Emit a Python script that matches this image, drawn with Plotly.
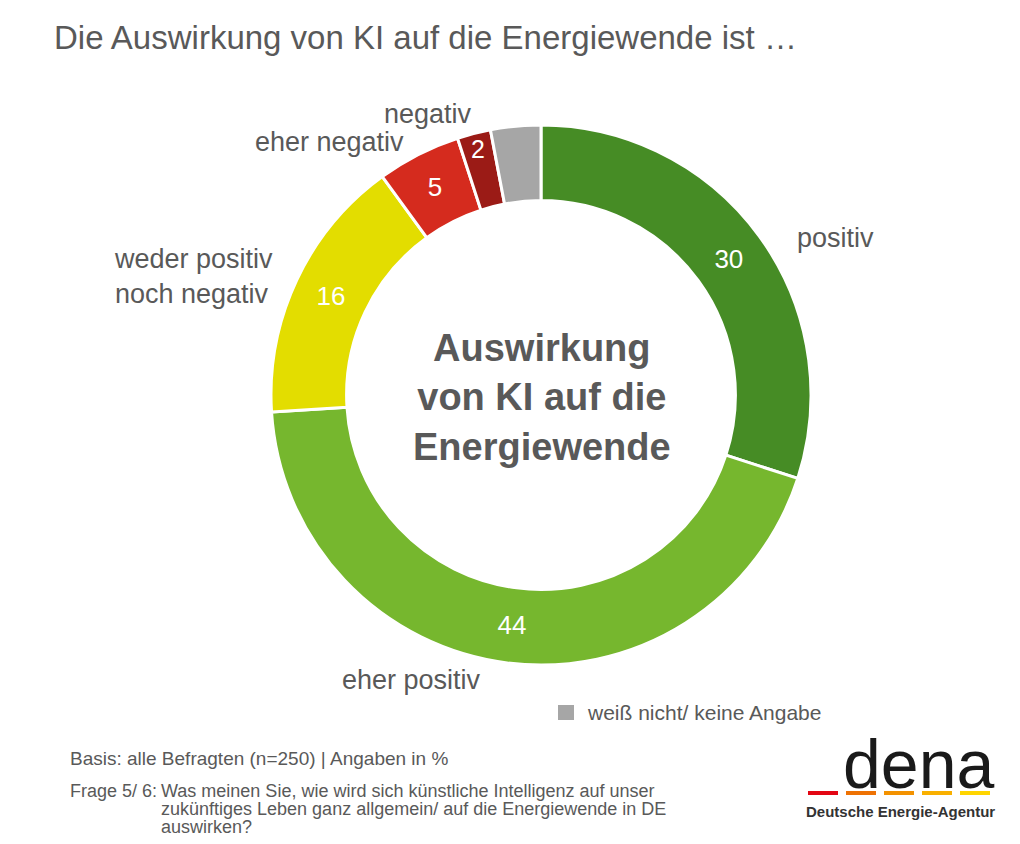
import plotly.graph_objects as go

labels = ["positiv", "eher positiv", "weder positiv noch negativ", "eher negativ", "negativ", "weiß nicht/ keine Angabe"]
values = [30, 44, 16, 5, 2, 3]
colors = ["#468c25", "#76b72e", "#e3dd00", "#d52b1e", "#9b1b16", "#a6a6a6"]
shown = ["30", "44", "16", "5", "2", ""]

W, H = 1020, 844
OFF = 8
def px(x, y):
    return (x - OFF) / W, 1 - (y - OFF) / H

fig = go.Figure(go.Pie(
    labels=labels, values=values, sort=False, direction="clockwise", rotation=0,
    hole=0.72, marker=dict(colors=colors, line=dict(color="white", width=3)),
    text=shown, texttemplate="%{text}", textinfo="text", textposition="inside",
    insidetextorientation="horizontal",
    textfont=dict(color="white", size=26, family="Liberation Sans"),
    domain=dict(x=[(271 - OFF) / W, (811 - OFF) / W], y=[1 - (665 - OFF) / H, 1 - (125 - OFF) / H]),
    showlegend=False, hoverinfo="label+value"))

ann = []
def t(x, y, s, size=22, color="#595959", xa="left", ya="middle"):
    X, Y = px(x, y)
    ann.append(dict(x=X, y=Y, xref="paper", yref="paper", text=s, showarrow=False,
                    xanchor=xa, yanchor=ya, align="left" if xa == "left" else "center",
                    font=dict(size=size, color=color, family="Liberation Sans")))

t(52, 38, "Die Auswirkung von KI auf die Energiewende ist …", 33)
t(795, 238, "positiv", 27)
t(340, 680, "eher positiv", 27)
t(112, 276, "weder positiv<br>noch negativ", 27)
t(253, 142, "eher negativ", 27)
t(382, 114, "negativ", 27)
t(542, 397, "<b>Auswirkung<br>von KI auf die<br>Energiewende</b>", 38, xa="center")
t(585, 712, "weiß nicht/ keine Angabe", 21)
t(68, 758, "Basis: alle Befragten (n=250) | Angaben in %", 19)
t(68, 791, "Frage 5/ 6:", 18)
t(159, 791, "Was meinen Sie, wie wird sich künstliche Intelligenz auf unser", 18)
t(159, 809, "zukünftiges Leben ganz allgemein/ auf die Energiewende in DE", 18)
t(159, 827, "auswirken?", 18)
t(918, 764, "dena", 68, color="#1a1a1a", xa="center")
t(900, 811, "<b>Deutsche Energie-Agentur</b>", 15, color="#333333", xa="center")

shapes = []
x0, y0 = px(558, 705); x1, y1 = px(574, 720)
shapes.append(dict(type="rect", xref="paper", yref="paper", x0=x0, x1=x1, y0=y1, y1=y0,
                   fillcolor="#a6a6a6", line=dict(width=0)))
for i, c in enumerate(["#e30613", "#ee7203", "#f39200", "#f9b000", "#ffd500"]):
    xa_, ya_ = px(808 + i * 38, 791); xb_, yb_ = px(808 + i * 38 + 30, 795)
    shapes.append(dict(type="rect", xref="paper", yref="paper", x0=xa_, x1=xb_, y0=yb_, y1=ya_,
                       fillcolor=c, line=dict(width=0)))

fig.update_layout(width=W, height=H, margin=dict(l=0, r=0, t=0, b=0),
                  paper_bgcolor="white", annotations=ann, shapes=shapes)
fig.write_html("out.html")
